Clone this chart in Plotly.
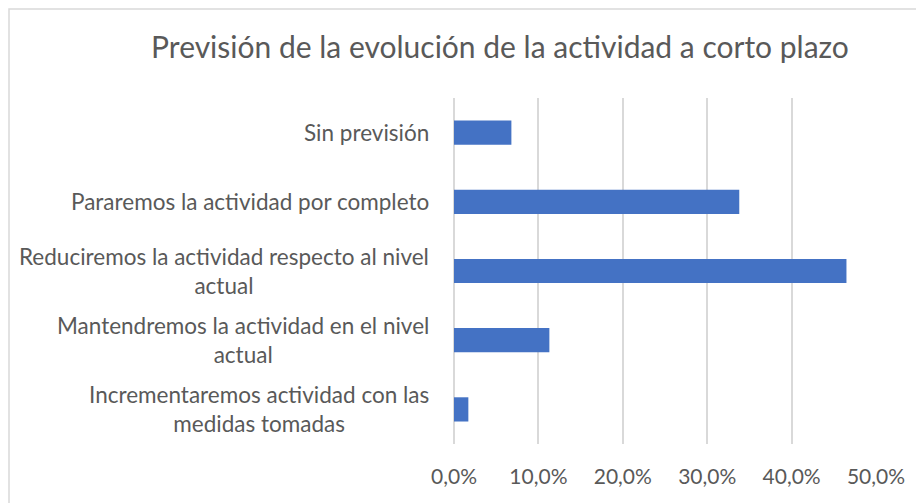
import plotly.graph_objects as go

# Data (top to bottom as in the reference)
categories = [
    "Sin previsión",
    "Pararemos la actividad por completo",
    "Reduciremos la actividad respecto al nivel actual",
    "Mantendremos la actividad en el nivel actual",
    "Incrementaremos actividad con las medidas tomadas",
]
label_texts = [
    "Sin previsión",
    "Pararemos la actividad por completo",
    "Reduciremos la actividad respecto al nivel<br>actual",
    "Mantendremos la actividad en el nivel<br>actual",
    "Incrementaremos actividad con las<br>medidas tomadas",
]
values = [6.8, 33.8, 46.5, 11.3, 1.7]  # percent
tick_values = [0, 10, 20, 30, 40, 50]
tick_labels = ["0,0%", "10,0%", "20,0%", "30,0%", "40,0%", "50,0%"]

# page body has an 8px default margin -> work in figure pixels
OFF = 8
W, H = 924 - OFF, 503 - OFF
L, R, T, B = 454 - OFF, 876 - OFF, 98 - OFF, 444 - OFF
pw, ph = R - L, B - T

TEXT = "#595959"
FONT = "Lato"

fig = go.Figure(go.Bar(
    x=values, y=categories, orientation="h",
    marker=dict(color="#4472C4", line=dict(width=0)),
    hoverinfo="skip",
))

annotations = []
for c, t in zip(categories, label_texts):
    annotations.append(dict(
        x=0, xref="paper", xanchor="right", xshift=-23,
        y=c, yref="y", yanchor="middle",
        text=t, align="center", showarrow=False,
        font=dict(family=FONT, size=22.5, color=TEXT),
    ))

fig.update_layout(
    width=W, height=H,
    margin=dict(l=L, r=W - R, t=T, b=H - B, pad=0),
    paper_bgcolor="white", plot_bgcolor="white",
    showlegend=False,
    bargap=0.65,
    title=dict(
        text="Previsión de la evolución de la actividad a corto plazo",
        x=(500 - OFF) / W, xanchor="center", xref="container",
        y=1 - (47 - OFF) / H, yanchor="middle", yref="container",
        font=dict(family=FONT, size=30, color=TEXT),
    ),
    xaxis=dict(
        range=[0, 50], tickmode="array", tickvals=tick_values, ticktext=tick_labels,
        showgrid=True, gridcolor="#D9D9D9", gridwidth=1.5,
        zeroline=True, zerolinecolor="#D9D9D9", zerolinewidth=1.5,
        showline=False, ticks="",
        ticklabelstandoff=18,
        tickfont=dict(family=FONT, size=21, color=TEXT),
        fixedrange=True,
    ),
    yaxis=dict(
        categoryorder="array", categoryarray=categories[::-1],
        showticklabels=False, showgrid=False, zeroline=False, showline=False,
        ticks="", fixedrange=True,
    ),
    annotations=annotations,
    shapes=[dict(
        type="rect", xref="paper", yref="paper",
        x0=(1 - L) / pw, x1=(940 - L) / pw,
        y0=(B - 520) / ph, y1=(B - 1) / ph,
        line=dict(color="#D9D9D9", width=1.5), fillcolor="rgba(0,0,0,0)",
        layer="below",
    )],
)

fig.write_html("out.html", config={"displayModeBar": False})
